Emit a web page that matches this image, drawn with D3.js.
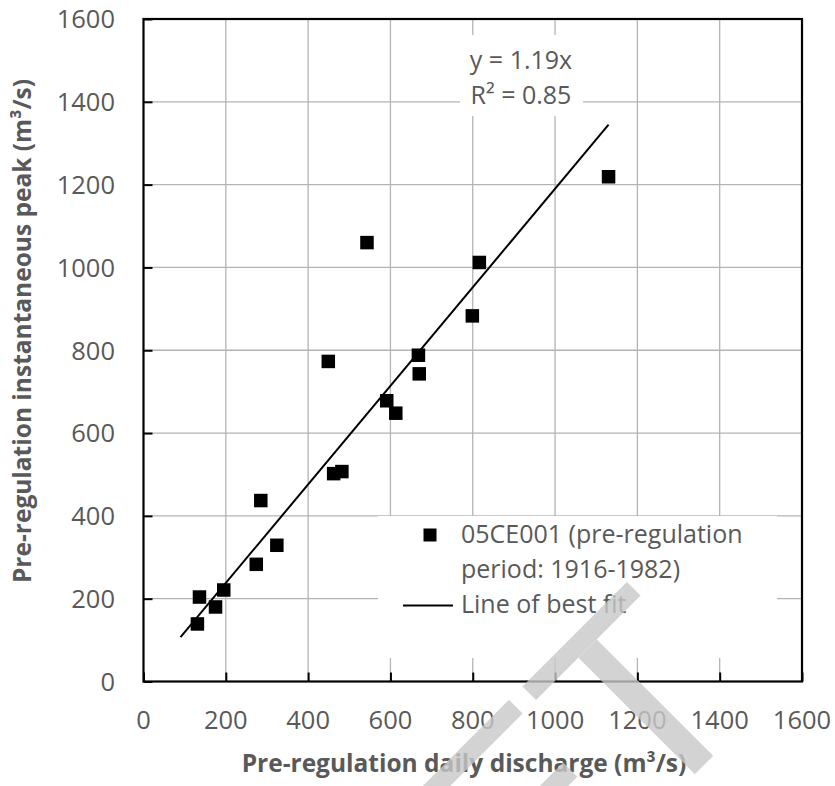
<!DOCTYPE html>
<html>
<head>
<meta charset="utf-8">
<script src="https://cdn.jsdelivr.net/npm/d3@7"></script>
<style>
  html, body { margin: 0; padding: 0; background: #ffffff; }
  svg { display: block; }
  text { font-family: "Open Sans", "Noto Sans", sans-serif; fill: #595959; }
</style>
</head>
<body>
<svg id="chart" width="835" height="786"></svg>
<script>
// Pre-regulation daily discharge vs instantaneous peak, station 05CE001
const discharge = [131, 136, 175, 195, 274, 285, 324, 449, 462, 482, 543, 591, 613, 668, 670, 799, 816, 1130];
const peak      = [139, 204, 180, 221, 283, 437, 329, 773, 502, 507, 1060, 678, 648, 788, 743, 883, 1012, 1219];

const xTicks = [0, 200, 400, 600, 800, 1000, 1200, 1400, 1600];
const yTicks = [0, 200, 400, 600, 800, 1000, 1200, 1400, 1600];

// Trendline through the origin
const fitSlope = 1.19;
const fitDomain = [90, 1130];
const equationLines = ["y = 1.19x", "R² = 0.85"];

const xTitle = "Pre-regulation daily discharge (m³/s)";
const yTitle = "Pre-regulation instantaneous peak (m³/s)";
const legendSeries = ["05CE001 (pre-regulation", "period: 1916-1982)"];
const legendFit = "Line of best fit";

const svg = d3.select("#chart");
const plot = { left: 143.5, right: 802, top: 19, bottom: 681.5 };

const x = d3.scaleLinear().domain([0, 1600]).range([plot.left, plot.right]);
const y = d3.scaleLinear().domain([0, 1600]).range([plot.bottom, plot.top]);

const gridColor = "#b4b4b4";

// Gridlines
const grid = svg.append("g");
grid.selectAll("line.v").data(xTicks.slice(1, -1)).join("line")
  .attr("x1", d => x(d)).attr("x2", d => x(d))
  .attr("y1", plot.top).attr("y2", plot.bottom)
  .attr("stroke", gridColor).attr("stroke-width", 1.3);
grid.selectAll("line.h").data(yTicks.slice(1, -1)).join("line")
  .attr("x1", plot.left).attr("x2", plot.right)
  .attr("y1", d => y(d)).attr("y2", d => y(d))
  .attr("stroke", gridColor).attr("stroke-width", 1.3);

// White panels behind the equation label and the legend
svg.append("rect").attr("x", 460).attr("y", 35).attr("width", 123).attr("height", 81).attr("fill", "#fff");
svg.append("rect").attr("x", 378).attr("y", 516).attr("width", 399).attr("height", 142).attr("fill", "#fff");

// Axes with inward ticks
const xAxis = d3.axisBottom(x).tickValues(xTicks).tickSize(-9).tickFormat("");
const yAxis = d3.axisLeft(y).tickValues(yTicks).tickSize(-9).tickFormat("");
const gx = svg.append("g").attr("transform", `translate(0,${plot.bottom})`).call(xAxis);
const gy = svg.append("g").attr("transform", `translate(${plot.left},0)`).call(yAxis);
[gx, gy].forEach(g => {
  g.select(".domain").remove();
  g.selectAll(".tick line").attr("stroke", "#000").attr("stroke-width", 2);
});

// Plot border
svg.append("rect")
  .attr("x", plot.left).attr("y", plot.top)
  .attr("width", plot.right - plot.left).attr("height", plot.bottom - plot.top)
  .attr("fill", "none").attr("stroke", "#000").attr("stroke-width", 2.2);

// Tick labels
svg.append("g").selectAll("text").data(xTicks).join("text")
  .attr("x", d => x(d)).attr("y", 728.5)
  .attr("text-anchor", "middle").attr("font-size", 25.5)
  .text(d => d);
svg.append("g").selectAll("text").data(yTicks).join("text")
  .attr("x", 115).attr("y", d => y(d) + 9.3)
  .attr("text-anchor", "end").attr("font-size", 25.5)
  .text(d => d);

// Axis titles
svg.append("text")
  .attr("x", 464).attr("y", 772)
  .attr("text-anchor", "middle").attr("font-size", 24.5).attr("font-weight", "bold")
  .text(xTitle);
svg.append("text")
  .attr("transform", "translate(30.5,331) rotate(-90)")
  .attr("text-anchor", "middle").attr("font-size", 24.5).attr("font-weight", "bold")
  .text(yTitle);

// Line of best fit
svg.append("line")
  .attr("x1", x(fitDomain[0])).attr("y1", y(fitSlope * fitDomain[0]))
  .attr("x2", x(fitDomain[1])).attr("y2", y(fitSlope * fitDomain[1]))
  .attr("stroke", "#000").attr("stroke-width", 2);

// Observations
const ms = 13.5;
svg.append("g").selectAll("rect").data(discharge.map((d, i) => [d, peak[i]])).join("rect")
  .attr("x", d => x(d[0]) - ms / 2).attr("y", d => y(d[1]) - ms / 2)
  .attr("width", ms).attr("height", ms).attr("fill", "#000");

// Trendline equation
svg.append("g").selectAll("text").data(equationLines).join("text")
  .attr("x", 521).attr("y", (d, i) => 68.5 + i * 35.7)
  .attr("text-anchor", "middle").attr("font-size", 25)
  .text(d => d);

// Legend
const legend = svg.append("g");
legend.append("rect").attr("x", 423.5).attr("y", 528.5).attr("width", 13).attr("height", 13).attr("fill", "#000");
legend.selectAll("text.s").data(legendSeries).join("text")
  .attr("x", 461).attr("y", (d, i) => 543 + i * 34.5)
  .attr("font-size", 25).text(d => d);
legend.append("line").attr("x1", 403).attr("x2", 453).attr("y1", 605.5).attr("y2", 605.5)
  .attr("stroke", "#000").attr("stroke-width", 2);
legend.append("text").attr("x", 461).attr("y", 613).attr("font-size", 25).text(legendFit);

// Diagonal "DRAFT" watermark strokes (only the tail of the word falls on the page)
const wm = svg.append("g")
  .attr("transform", "translate(529.25,693.25) rotate(-45)")
  .attr("fill", "#c8c8c8").attr("fill-opacity", 0.8);
wm.append("rect").attr("x", 0).attr("y", -9.7).attr("width", 147.8).attr("height", 19.4);      // T bar
wm.append("rect").attr("x", 59.9).attr("y", 9.7).attr("width", 25.9).attr("height", 164.6);    // T stem
wm.append("rect").attr("x", -400).attr("y", -9.7).attr("width", 381).attr("height", 19.4);     // F top arm
wm.append("rect").attr("x", -400).attr("y", 73).attr("width", 375).attr("height", 20);         // F middle arm
</script>
</body>
</html>
